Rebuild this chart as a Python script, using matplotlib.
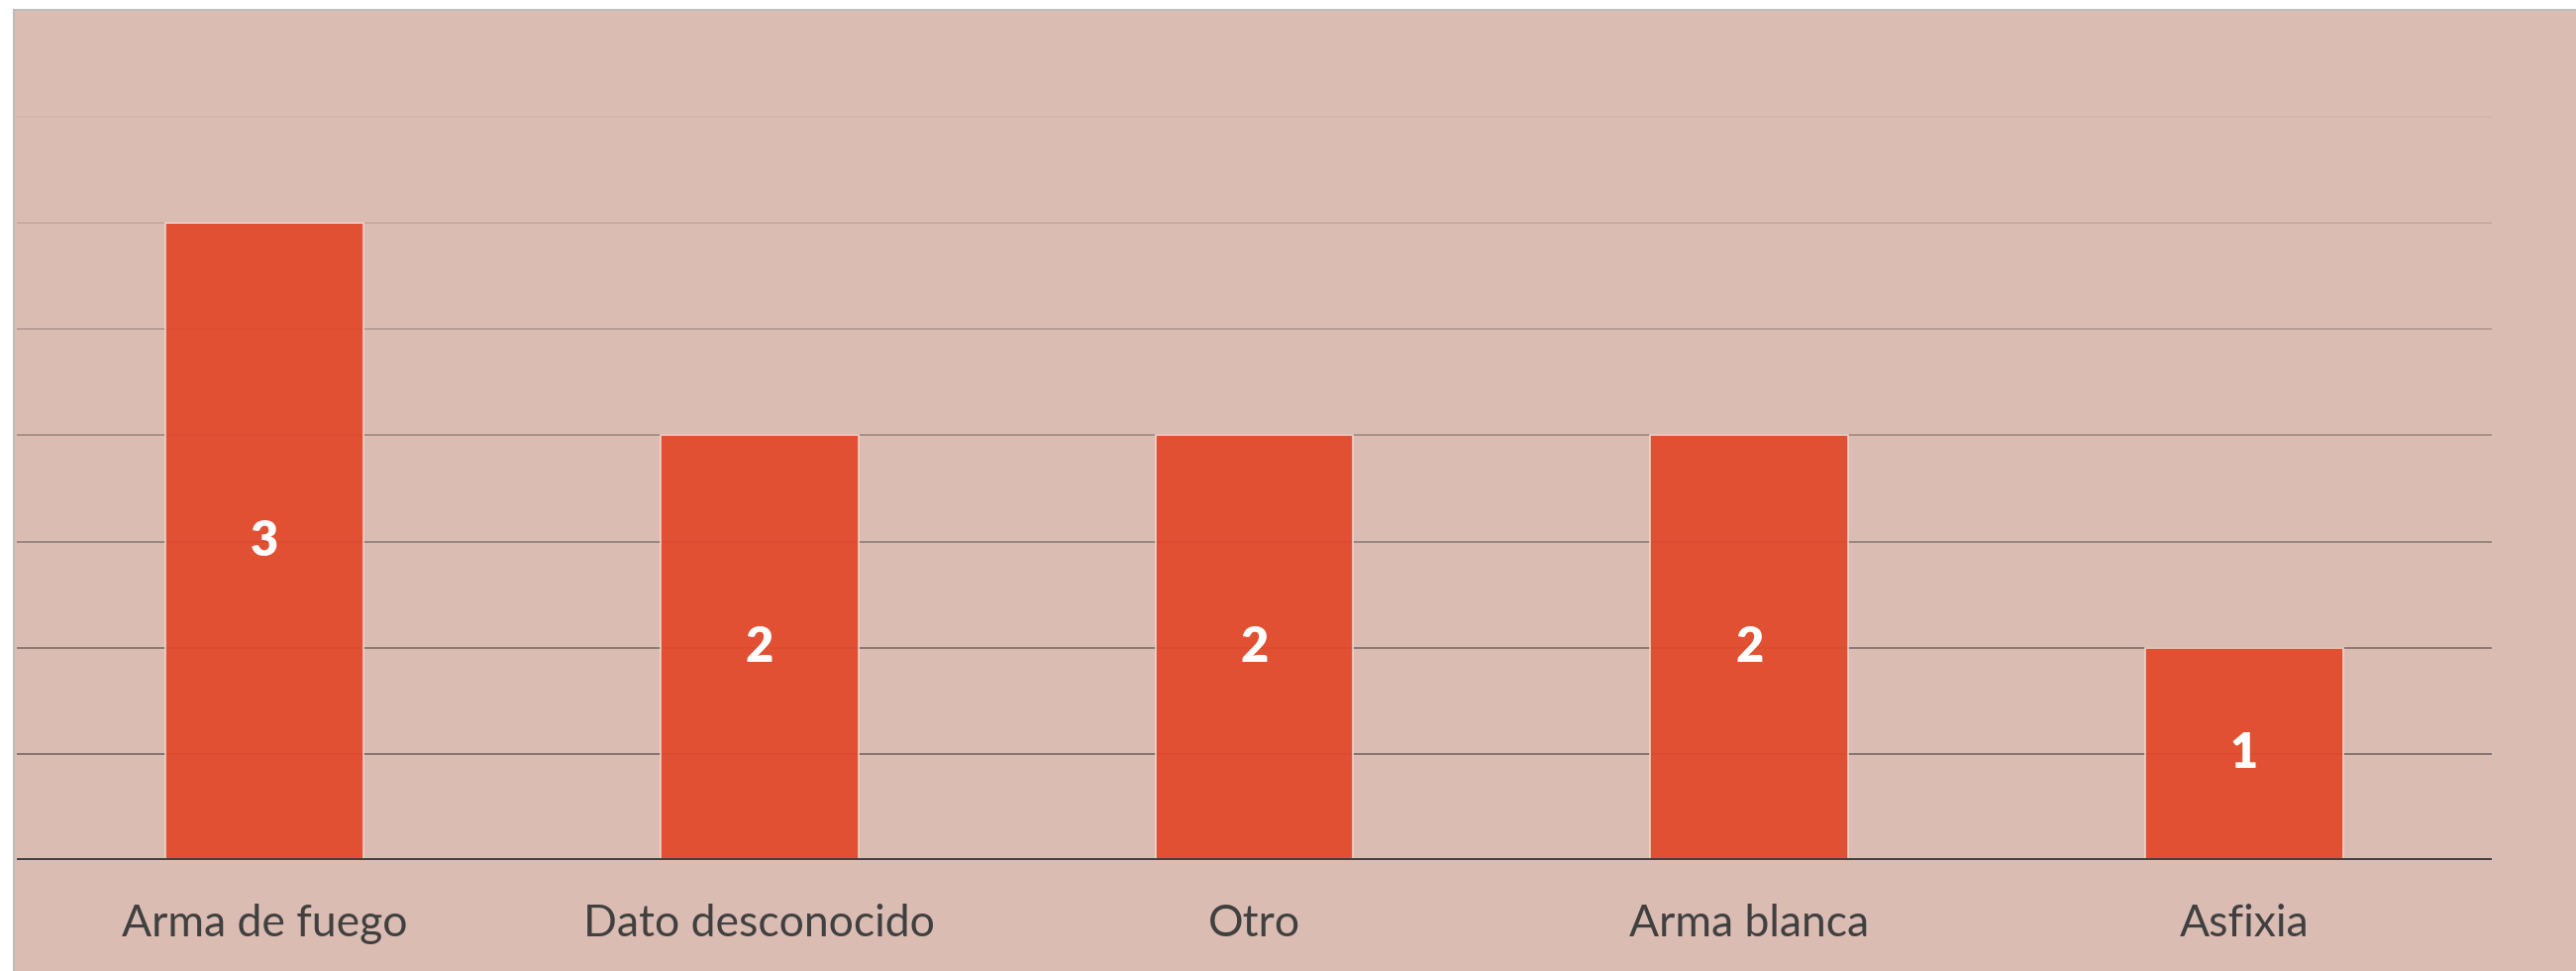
import matplotlib
matplotlib.use("Agg")
import matplotlib.pyplot as plt
from matplotlib.patches import Rectangle

categories = ["Arma de fuego", "Dato desconocido", "Otro", "Arma blanca", "Asfixia"]
values = [3, 2, 2, 2, 1]
grid_levels = [0.5, 1.0, 1.5, 2.0, 2.5, 3.0, 3.5]
grid_alphas = [0.55, 0.5, 0.42, 0.33, 0.22, 0.12, 0.04]

W, H = 2601, 980
fig = plt.figure(figsize=(W / 100, H / 100), dpi=100)
fig.patch.set_facecolor("white")

bg = "#dbbcb3"
# chart area background with thin gray border on left/top
rect = Rectangle((14 / W, -0.05), 1.1, 1.05 - 10 / H, transform=fig.transFigure,
                 facecolor=bg, edgecolor="#bdbdbd", linewidth=1.5, zorder=-10)
fig.add_artist(rect)

ax = fig.add_axes([17 / W, 1 - 868 / H, (2516 - 17) / W, (868 - 11) / H])
ax.set_zorder(5)
ax.set_facecolor("none")
ax.set_xlim(-0.5, len(categories) - 0.5)
ax.set_ylim(0, 4)

for lvl, a in zip(grid_levels, grid_alphas):
    ax.axhline(lvl, color="#3a3a3a", alpha=a, linewidth=1.4, zorder=1)

x = list(range(len(categories)))
bars = ax.bar(x, values, width=0.4, color="#e2492b", alpha=0.94,
              edgecolor="#f2d6cf", linewidth=1.2, zorder=2)

for xi, v in zip(x, values):
    ax.text(xi, v / 2, str(v), ha="center", va="center", color="white",
            fontsize=35, fontweight="heavy", family="Lato", zorder=4)

ax.axhline(0, color="#404040", linewidth=2.8, zorder=3)

for s in ax.spines.values():
    s.set_visible(False)
ax.set_yticks([])
ax.set_xticks(x)
ax.set_xticklabels(categories, fontsize=32, color="#404040", family="Lato")
ax.tick_params(axis="x", length=0, pad=32)

fig.savefig("out.png", dpi=100, facecolor=fig.get_facecolor())
